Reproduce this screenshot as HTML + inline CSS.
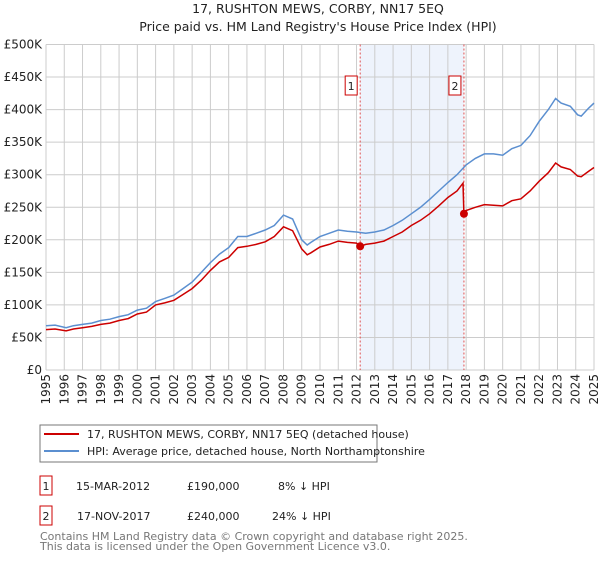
<!DOCTYPE html>
<html><head><meta charset="utf-8"><style>
body{margin:0;background:#fff;font-family:"Liberation Sans","DejaVu Sans",sans-serif;}
svg text{font-family:"DejaVu Sans","Liberation Sans",sans-serif;}
</style></head><body>
<svg id="chart" width="600" height="560" viewBox="0 0 600 560" xmlns="http://www.w3.org/2000/svg">
<text x="318" y="13" font-size="12.5" text-anchor="middle" fill="#222">17, RUSHTON MEWS, CORBY, NN17 5EQ</text>
<text x="318" y="31" font-size="12.5" text-anchor="middle" fill="#222">Price paid vs. HM Land Registry's House Price Index (HPI)</text>
<g id="grid"></g>
<g id="marks"></g>
<g id="legend">
<rect x="40" y="425" width="337" height="37" fill="#fff" stroke="#777"/>
<line x1="44" y1="434" x2="79" y2="434" stroke="#cc0000" stroke-width="2"/>
<text x="87" y="438" font-size="11" fill="#222">17, RUSHTON MEWS, CORBY, NN17 5EQ (detached house)</text>
<line x1="44" y1="451" x2="79" y2="451" stroke="#5b8fd0" stroke-width="2"/>
<text x="87" y="455" font-size="11" fill="#222">HPI: Average price, detached house, North Northamptonshire</text>
</g>
<g font-size="11" fill="#222">
<rect x="40" y="476" width="12" height="19" fill="#fff" stroke="#cc0000"/>
<text x="46" y="490" text-anchor="middle">1</text>
<text x="76" y="490">15-MAR-2012</text>
<text x="187" y="490">£190,000</text>
<text x="278" y="490">8% ↓ HPI</text>
<rect x="40" y="506" width="12" height="19" fill="#fff" stroke="#cc0000"/>
<text x="46" y="520" text-anchor="middle">2</text>
<text x="77" y="520">17-NOV-2017</text>
<text x="187" y="520">£240,000</text>
<text x="272" y="520">24% ↓ HPI</text>
</g>
<text x="40" y="540" font-size="11" fill="#777">Contains HM Land Registry data © Crown copyright and database right 2025.</text>
<text x="40" y="550" font-size="11" fill="#777">This data is licensed under the Open Government Licence v3.0.</text>
</svg>
<script>
const hpiYears=[1995,1995.5,1996.1,1996.5,1997,1997.5,1998,1998.5,1999,1999.5,2000,2000.5,2001,2001.5,2002,2002.5,2003,2003.5,2004,2004.5,2005,2005.5,2006,2006.5,2007,2007.5,2008,2008.5,2009,2009.3,2009.5,2010,2010.5,2011,2011.5,2012,2012.5,2013,2013.5,2014,2014.5,2015,2015.5,2016,2016.5,2017,2017.5,2018,2018.5,2019,2019.5,2020,2020.5,2021,2021.5,2022,2022.5,2022.9,2023.2,2023.7,2024.1,2024.3,2024.7,2025];
const hpiValues=[68,69,65,68,70,72,76,78,82,85,92,95,105,110,115,125,135,150,165,178,188,205,205,210,215,222,238,232,200,192,196,205,210,215,213,212,210,212,215,222,230,240,250,262,275,288,300,315,325,332,332,330,340,345,360,382,400,417,410,405,392,390,402,410];
const redYears=[1995,1995.5,1996.1,1996.5,1997,1997.5,1998,1998.5,1999,1999.5,2000,2000.5,2001,2001.5,2002,2002.5,2003,2003.5,2004,2004.5,2005,2005.5,2006,2006.5,2007,2007.5,2008,2008.5,2009,2009.3,2009.5,2010,2010.5,2011,2011.5,2012,2012.2,2012.5,2013,2013.5,2014,2014.5,2015,2015.5,2016,2016.5,2017,2017.5,2017.83,2017.88,2018,2018.5,2019,2019.5,2020,2020.5,2021,2021.5,2022,2022.5,2022.9,2023.2,2023.7,2024.1,2024.3,2024.7,2025];
const redValues=[62,63,60,63,65,67,70,72,76,79,86,89,100,103,107,116,125,138,153,166,173,188,190,193,197,205,220,214,186,177,180,189,193,198,196,195,190,193,195,198,205,212,222,230,240,252,265,275,287,240,245,250,254,253,252,260,263,275,290,303,318,312,308,298,297,305,311];
const saleYears=[2012.2,2017.88];
const saleValues=[190,240];
const saleLabels=["1","2"];
const yTicks=[0,50,100,150,200,250,300,350,400,450,500];
const yTickLabels=["£0","£50K","£100K","£150K","£200K","£250K","£300K","£350K","£400K","£450K","£500K"];
const xTicks=[1995,1996,1997,1998,1999,2000,2001,2002,2003,2004,2005,2006,2007,2008,2009,2010,2011,2012,2013,2014,2015,2016,2017,2018,2019,2020,2021,2022,2023,2024,2025];

const NS="http://www.w3.org/2000/svg";
const X0=46,X1=594,Y0=370,Y1=44.5;
const xs=y=>X0+(y-1995)/30*(X1-X0);
const ys=v=>Y0-v/500*(Y0-Y1);
function mk(tag,attrs,parent){const e=document.createElementNS(NS,tag);for(const k in attrs)e.setAttribute(k,attrs[k]);parent.appendChild(e);return e;}
const grid=document.getElementById('grid'),marks=document.getElementById('marks');
// shaded band
let band=mk('rect',{x:xs(saleYears[0]),y:Y1,width:xs(saleYears[1])-xs(saleYears[0]),height:Y0-Y1,fill:'#eef3fc'},grid);


yTicks.forEach((t,i)=>{
  let l=mk('line',{x1:X0,x2:X1,y1:ys(t),y2:ys(t),stroke:'#cccccc','stroke-width':1},grid);
  
  
  let tx=mk('text',{x:X0-4,y:ys(t)+4,'font-size':12,'text-anchor':'end',fill:'#222'},grid);
  tx.textContent=yTickLabels[i];
  
  
});
xTicks.forEach(t=>{
  let l=mk('line',{x1:xs(t),x2:xs(t),y1:Y1,y2:Y0,stroke:'#cccccc','stroke-width':1},grid);
  
  
  let tx=mk('text',{x:0,y:0,'font-size':12,'text-anchor':'end',fill:'#222',transform:`translate(${xs(t)+4},${Y0+4}) rotate(-90)`},grid);
  tx.textContent=String(t);
  
  
});
saleYears.forEach((sy,i)=>{
  let l=mk('line',{x1:xs(sy),x2:xs(sy),y1:Y1,y2:Y0,stroke:'#e05050','stroke-width':1,'stroke-dasharray':'2,2'},grid);
  
  
  let b=mk('rect',{x:xs(sy)-15,y:76,width:12,height:19,fill:'#fff',stroke:'#cc0000'},grid);
  
  
  let t=mk('text',{x:xs(sy)-9,y:90,'font-size':11,'text-anchor':'middle',fill:'#222'},grid);
  t.textContent=saleLabels[i];
  
  
});
function path(xa,va){return xa.map((x,i)=>(i?'L':'M')+xs(x).toFixed(1)+','+ys(va[i]).toFixed(1)).join('');}
let hp=mk('path',{d:path(hpiYears,hpiValues),fill:'none',stroke:'#5b8fd0','stroke-width':1.5},marks);


let rp=mk('path',{d:path(redYears,redValues),fill:'none',stroke:'#cc0000','stroke-width':1.5},marks);


saleYears.forEach((sy,i)=>{
  let c=mk('circle',{cx:xs(sy),cy:ys(saleValues[i]),r:4,fill:'#cc0000'},marks);
  
  
});
</script>
</body></html>
